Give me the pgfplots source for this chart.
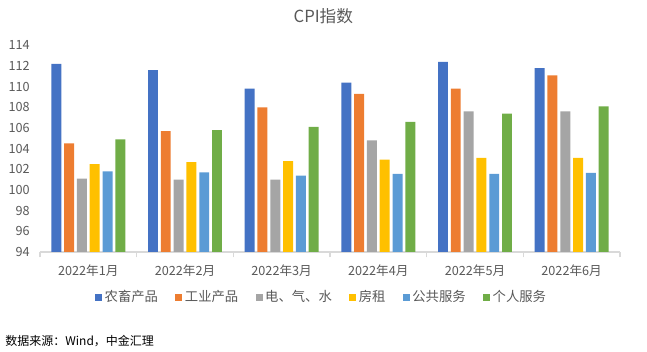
\documentclass[border=0pt]{standalone}
\usepackage{fontspec}
\setmainfont{Noto Sans CJK SC}
\usepackage{pgfplots}
\pgfplotsset{compat=1.18}
\definecolor{c1}{HTML}{4472C4}
\definecolor{c2}{HTML}{ED7D31}
\definecolor{c3}{HTML}{A5A5A5}
\definecolor{c4}{HTML}{FFC000}
\definecolor{c5}{HTML}{5B9BD5}
\definecolor{c6}{HTML}{70AD47}
\definecolor{txt}{HTML}{595959}
\definecolor{axl}{HTML}{D9D9D9}
\begin{document}
\begin{tikzpicture}[x=1pt,y=1pt]
\path[use as bounding box] (0,0) rectangle (485.25,264);
\node[text=txt,font=\fontsize{12.5}{14}\selectfont] at (242.5,251.5) {CPI指数};
\node[anchor=west,font=\fontsize{9}{11}\selectfont] at (0.5,8.5) {数据来源：Wind，中金汇理};
\begin{axis}[
  at={(30pt,75pt)}, anchor=south west,
  scale only axis, width=435pt, height=155pt,
  xmin=-0.5, xmax=5.5, ymin=94, ymax=114,
  ytick={94,96,...,114},
  xtick={0,1,2,3,4,5},
  xticklabels={2022年1月,2022年2月,2022年3月,2022年4月,2022年5月,2022年6月},
  minor xtick={-0.5,0.5,...,5.5},
  axis lines*=left,
  y axis line style={draw=none},
  x axis line style={draw=axl, line width=0.8pt},
  major x tick style={draw=none},
  ytick style={draw=none},
  minor x tick style={draw=axl, line width=0.8pt},
  minor tick length=4pt,
  tick align=outside,
  /pgf/number format/assume math mode=true,
  tick label style={text=txt, font=\fontsize{9.5}{11}\selectfont},
  xticklabel style={yshift=-2pt},
  ybar, bar width=0.103,
  every axis plot/.append style={draw=none},
  legend columns=6,
  legend style={at={(0.486,-0.218)}, anchor=center, draw=none, fill=none,
    font=\fontsize{10}{12}\selectfont, text=txt,
    /tikz/every even column/.append style={column sep=11pt}},
  legend image code/.code={\fill[#1] (0pt,-2.6pt) rectangle (5.2pt,2.6pt);},
]
\addplot[fill=c1, bar shift=-0.331] coordinates {(0,112.2) (1,111.6) (2,109.8) (3,110.4) (4,112.4) (5,111.8)};
\addplot[fill=c2, bar shift=-0.199] coordinates {(0,104.5) (1,105.7) (2,108.0) (3,109.3) (4,109.8) (5,111.1)};
\addplot[fill=c3, bar shift=-0.066] coordinates {(0,101.1) (1,101.0) (2,101.0) (3,104.8) (4,107.6) (5,107.6)};
\addplot[fill=c4, bar shift=0.066] coordinates {(0,102.5) (1,102.7) (2,102.8) (3,102.95) (4,103.1) (5,103.1)};
\addplot[fill=c5, bar shift=0.199] coordinates {(0,101.8) (1,101.7) (2,101.4) (3,101.55) (4,101.55) (5,101.65)};
\addplot[fill=c6, bar shift=0.331] coordinates {(0,104.9) (1,105.8) (2,106.1) (3,106.6) (4,107.4) (5,108.1)};
\legend{农畜产品,工业产品,电、气、水,房租,公共服务,个人服务}
\end{axis}
\end{tikzpicture}
\end{document}
